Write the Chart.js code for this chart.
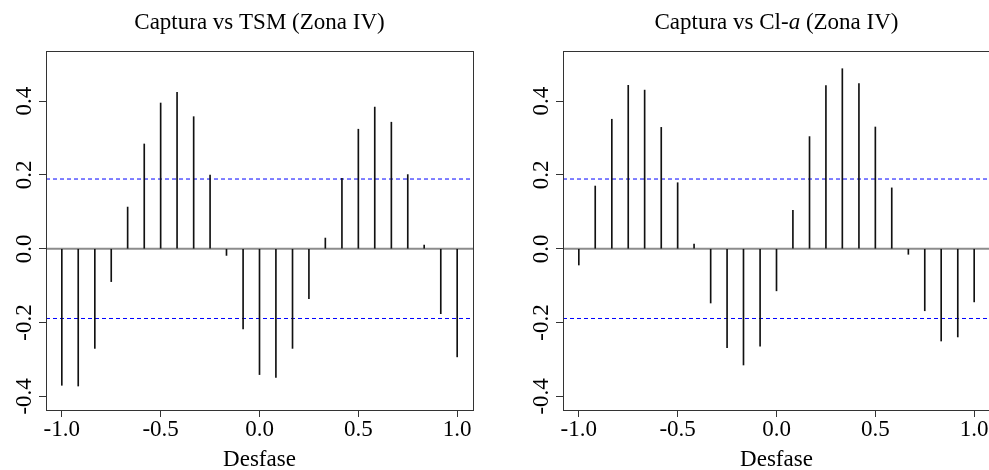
<!DOCTYPE html>
<html>
<head>
<meta charset="utf-8">
<script src="https://cdn.jsdelivr.net/npm/chart.js@4"></script>
<style>
  html, body { margin: 0; padding: 0; background: #fff; overflow: hidden; }
  canvas { position: absolute; top: 0; }
  #ccf_tsm { left: 0; }
  #ccf_cla { left: 517px; }
</style>
</head>
<body>
<canvas id="ccf_tsm" width="517" height="470"></canvas>
<canvas id="ccf_cla" width="480" height="470"></canvas>
<script>
// desfase (años) y correlación cruzada de cada panel
var lags = [-1.000, -0.917, -0.833, -0.750, -0.667, -0.583, -0.500, -0.417, -0.333,
            -0.250, -0.167, -0.083, 0.000, 0.083, 0.167, 0.250, 0.333, 0.417,
            0.500, 0.583, 0.667, 0.750, 0.833, 0.917, 1.000];
var ccfTsm = [-0.370, -0.372, -0.270, -0.089, 0.113, 0.284, 0.395, 0.424, 0.358,
              0.200, -0.018, -0.217, -0.341, -0.349, -0.270, -0.135, 0.029, 0.191,
              0.324, 0.384, 0.343, 0.201, 0.010, -0.176, -0.293];
var ccfCla = [-0.044, 0.170, 0.351, 0.443, 0.430, 0.329, 0.179, 0.013, -0.147,
              -0.268, -0.315, -0.264, -0.114, 0.104, 0.304, 0.442, 0.488, 0.448,
              0.330, 0.165, -0.015, -0.168, -0.250, -0.239, -0.144];
var ciLimit = 0.189;

var xTicks = [-1, -0.5, 0, 0.5, 1];
var yTicks = [-0.4, -0.2, 0, 0.2, 0.4];
var xLo = -1.08, xHi = 1.08, yLo = -0.437, yHi = 0.536;

var serif = '"Liberation Serif", "Times New Roman", serif';

function hline(y, color, width, dash) {
    return {
        type: 'line',
        data: [{x: xLo, y: y}, {x: xHi, y: y}],
        borderColor: color,
        borderWidth: width,
        borderDash: dash,
        pointRadius: 0,
        clip: 0,
        order: 2
    };
}

// caja, títulos y etiquetas verticales del eje y (estilo R)
function panelDeco(titleParts) {
    return {
        id: 'panelDeco',
        afterDraw: function (chart) {
            var ctx = chart.ctx, a = chart.chartArea, ys = chart.scales.y;
            ctx.save();
            ctx.strokeStyle = '#333';
            ctx.lineWidth = 1;
            ctx.strokeRect(a.left + 0.5, a.top + 0.5, a.right - a.left, a.bottom - a.top);

            ctx.fillStyle = '#000';
            ctx.textBaseline = 'alphabetic';
            var cx = (a.left + a.right) / 2;

            // título con partes en cursiva
            var total = 0;
            titleParts.forEach(function (p) {
                ctx.font = (p.italic ? 'italic ' : '') + '23px ' + serif;
                total += ctx.measureText(p.text).width;
            });
            var tx = cx - total / 2;
            ctx.textAlign = 'left';
            titleParts.forEach(function (p) {
                ctx.font = (p.italic ? 'italic ' : '') + '23px ' + serif;
                ctx.fillText(p.text, tx, 29);
                tx += ctx.measureText(p.text).width;
            });

            ctx.font = '23px ' + serif;
            ctx.textAlign = 'center';
            ctx.fillText('Desfase', cx, 466);

            yTicks.forEach(function (v) {
                var py = ys.getPixelForValue(v);
                ctx.save();
                ctx.translate(31, py);
                ctx.rotate(-Math.PI / 2);
                ctx.fillText(v.toFixed(1), 0, 0);
                ctx.restore();
            });
            ctx.restore();
        }
    };
}

function ccfChart(id, values, titleParts, rightPad) {
    return new Chart(document.getElementById(id), {
        type: 'bar',
        data: {
            datasets: [
                {
                    type: 'bar',
                    data: lags.map(function (x, i) { return {x: x, y: values[i]}; }),
                    backgroundColor: '#111',
                    borderWidth: 0,
                    barThickness: 1,
                    order: 1
                },
                hline(0, '#8c8c8c', 2, []),
                hline(ciLimit, '#0000ff', 1, [4, 3]),
                hline(-ciLimit, '#0000ff', 1, [4, 3])
            ]
        },
        options: {
            responsive: false,
            animation: false,
            layout: { padding: { left: 0, top: 51, right: rightPad, bottom: 0 } },
            plugins: { legend: { display: false }, tooltip: { enabled: false } },
            scales: {
                x: {
                    type: 'linear',
                    min: xLo,
                    max: xHi,
                    offset: false,
                    afterBuildTicks: function (s) { s.ticks = xTicks.map(function (v) { return {value: v}; }); },
                    afterFit: function (s) { s.height = 60; },
                    grid: { offset: false, drawOnChartArea: false, drawTicks: true, tickLength: 7, color: '#333' },
                    border: { display: false },
                    ticks: {
                        color: '#000',
                        padding: 1,
                        maxRotation: 0,
                        font: { family: serif, size: 23, lineHeight: 1 },
                        callback: function (v) { return v.toFixed(1); }
                    }
                },
                y: {
                    min: yLo,
                    max: yHi,
                    afterBuildTicks: function (s) { s.ticks = yTicks.map(function (v) { return {value: v}; }); },
                    afterFit: function (s) { s.width = 46; },
                    grid: { drawOnChartArea: false, drawTicks: true, tickLength: 7, color: '#333' },
                    border: { display: false },
                    ticks: { display: false }
                }
            }
        },
        plugins: [panelDeco(titleParts)]
    });
}

ccfChart('ccf_tsm', ccfTsm, [{text: 'Captura vs TSM (Zona IV)'}], 44);
ccfChart('ccf_cla', ccfCla, [{text: 'Captura vs Cl-'}, {text: 'a', italic: true}, {text: ' (Zona IV)'}], 7);
</script>
</body>
</html>
